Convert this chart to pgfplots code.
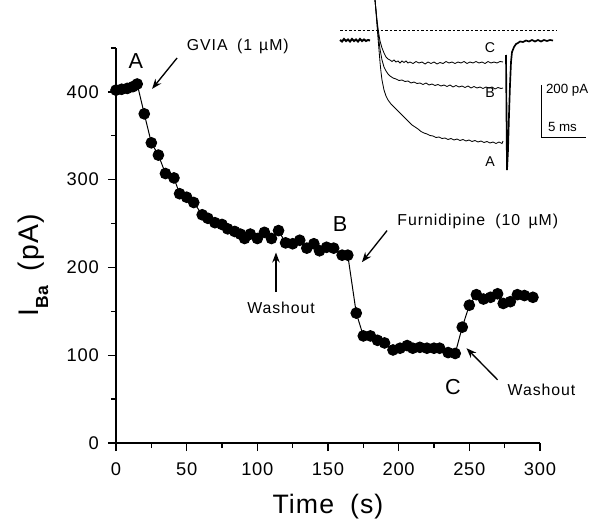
\documentclass[border=0pt]{standalone}
\usepackage{pgfplots}
\pgfplotsset{compat=1.18}
\usetikzlibrary{arrows.meta}
\usepackage{fontspec}
\setmainfont{Liberation Sans}
\newfontfamily\annfont[LetterSpace=6]{Liberation Sans}
\newfontfamily\lblfont[LetterSpace=4]{Liberation Sans}

\pgfplotstableread{
t I
0 402
4 403
8 404
12 406
15 409
20 375
25 342
30 328
35 307
41 302
45 284
50 280
55 274
61 260
65 256
70 251
75 249
79 244
84 241
88 238
91 233
95 238
100 233
105 240
110 233
115 242
120 228
125 227
130 231
135 222
140 227
144 219
149 223
154 222
160 214
164 214
170 148
175 122
180 122
185 117
190 114
196 106
201 108
206 111
210 108
215 109
220 108
225 108
229 108
235 103
240 102
245 132
250 157
255 169
260 164
265 166
270 170
274 159
279 161
284 169
289 168
295 166
}\mydata

\begin{document}
\begin{tikzpicture}
\begin{axis}[
  name=main,
  scale only axis,
  width=254.4pt, height=237pt,
  xmin=0, xmax=300, ymin=0, ymax=450,
  axis x line*=bottom, axis y line*=left,
  axis line style={line width=0.8pt, black},
  xtick={0,50,...,300}, minor xtick={25,75,...,275},
  ytick={0,100,...,400}, minor ytick={50,150,...,450},
  tick align=outside,
  major tick length=4.8pt, minor tick length=3pt,
  every tick/.style={black, line width=0.8pt},
  /pgf/number format/assume math mode=true,
  tick label style={font=\lblfont\fontsize{11}{13}\selectfont},
  xticklabel style={yshift=-3.5pt},
  yticklabel style={xshift=-2pt},
  xlabel={Time\hspace{0.6em}(s)},
  xlabel style={font=\lblfont\fontsize{16}{18}\selectfont, at={(axis description cs:0.5,-0.16)}, anchor=center},
  ylabel={I\raisebox{-0.35em}{\fontsize{10.5}{12}\selectfont\bfseries Ba}\hspace{0.5em}(pA)},
  ylabel style={font=\lblfont\fontsize{17}{19}\selectfont, at={(axis description cs:-0.196,0.45)}, anchor=center, rotate=0},
  clip=false,
]
\addplot[black, line width=0.6pt, mark=*, mark size=3.2pt, mark options={fill=black}] table[x=t, y=I] {\mydata};

% annotations
\node[font=\fontsize{13}{15}\selectfont] at (axis cs:14,435) {A};
\node[font=\fontsize{13}{15}\selectfont] at (axis cs:158.5,250) {B};
\node[font=\fontsize{13}{15}\selectfont] at (axis cs:238.5,64) {C};
\node[font=\annfont\fontsize{9.5}{11}\selectfont, anchor=west] at (axis cs:46,452) {GVIA\hspace{0.6em}(1\hspace{0.45em}µM)};
\draw[-{Stealth[length=6pt,width=4.5pt]}, line width=0.8pt] (axis cs:43.2,438.6) -- (axis cs:25.5,403.4);
\node[font=\annfont\fontsize{9.5}{11}\selectfont] at (axis cs:116.8,154.5) {Washout};
\draw[-{Stealth[length=6pt,width=4.5pt]}, line width=0.8pt] (axis cs:113.2,172) -- (axis cs:113.2,217);
\node[font=\annfont\fontsize{9.5}{11}\selectfont, anchor=west] at (axis cs:195,253) {Furnidipine\hspace{0.3em} (10\hspace{0.2em} µM)};
\draw[-{Stealth[length=6pt,width=4.5pt]}, line width=0.8pt] (axis cs:191.8,242) -- (axis cs:174,206);
\node[font=\annfont\fontsize{9.5}{11}\selectfont, anchor=west] at (axis cs:273,60) {Washout};
\draw[-{Stealth[length=6pt,width=4.5pt]}, line width=0.8pt] (axis cs:270,72) -- (axis cs:248,108);
\end{axis}

% inset, in pixel coordinates (x right, -y down)
\begin{axis}[
  scale only axis,
  width=254.4pt, height=237pt,
  xmin=116, xmax=540, ymin=-443, ymax=-48,
  hide axis, clip=false,
]
\addplot[black, line width=1.2pt] coordinates {(340,-40)(342,-41.5)(344,-39)(346,-41)(348,-39.5)(350,-41.5)(352,-39)(354,-41)(356,-39.5)(358,-41.5)(360,-39)(362,-41)(364,-39.5)(366,-41)(368,-40)(370,-40.5)};
\addplot[black, line width=0.5pt, dash pattern=on 1.5pt off 1.2pt] coordinates {(340,-30)(557,-30)};
\addplot[black, line width=0.5pt] coordinates {(375,0)(376,-10)(377,-20)(378,-28)(379,-35)(380,-41)(382,-48)(384,-53)(386,-57)(388,-59)(390,-60)(392,-61.5)(394,-60)(396,-62)(398,-61)(400,-63)(402,-61)(404,-62.5)(406,-61)(408,-63)(410,-62)(413,-63.5)(416,-61.5)(419,-63)(422,-62)(425,-64)(428,-62)(431,-63.5)(434,-62)(437,-64)(440,-62.5)(443,-63.5)(446,-61.5)(449,-63)(452,-62)(455,-63.5)(458,-62)(461,-63)(464,-61.5)(467,-63.5)(470,-62)(473,-63)(476,-61.5)(479,-63)(482,-62)(485,-63.5)(488,-61.5)(491,-63)(494,-62)(497,-63)(500,-61.5)(503,-62)};
\addplot[black, line width=0.5pt] coordinates {(375,0)(376,-11)(377,-22)(378,-32)(379,-41)(380,-49)(382,-60)(384,-67)(386,-71)(388,-74)(390,-76)(393,-78)(396,-79)(399,-80.5)(402,-80)(405,-81.5)(408,-81)(411,-83)(414,-82)(417,-83.5)(420,-83)(423,-84.5)(426,-83)(429,-85)(432,-84)(435,-85.5)(438,-84.5)(441,-86)(444,-85)(447,-86.5)(450,-85)(453,-87)(456,-85.5)(459,-87)(462,-86)(465,-87.5)(468,-86)(471,-88)(474,-86.5)(477,-88)(480,-87)(483,-88.5)(486,-87)(489,-88)(492,-87)(495,-89)(498,-87.5)(501,-88.5)(503,-88)};
\addplot[black, line width=0.5pt] coordinates {(375,0)(376,-12)(377,-25)(378,-38)(379,-50)(380,-62)(381,-72)(382,-80)(384,-90)(386,-96)(388,-100)(391,-104)(394,-107)(397,-110)(400,-113)(403,-116)(406,-119)(409,-122)(412,-125)(415,-127)(418,-129)(421,-131.5)(424,-133)(427,-134)(430,-135.5)(433,-136)(436,-137.5)(439,-137)(442,-138.5)(445,-138)(448,-139.5)(451,-138.5)(454,-140)(457,-139)(460,-140.5)(463,-139.5)(466,-141)(469,-140)(472,-141.5)(475,-140.5)(478,-142)(481,-141)(484,-142.5)(487,-141.5)(490,-143)(493,-142)(496,-143.5)(499,-142)(502,-143.5)(503,-141)};
\addplot[black, line width=1pt] coordinates {(506,-55)(507,-170)(508,-150)(509,-115)(510,-85)(511,-62)(512,-52)(514,-47)(516,-44)(518,-43)(520,-41.5)(523,-42)(526,-40.5)(529,-41.5)(532,-40)(535,-41.5)(538,-40)(541,-41.5)(544,-40)(547,-41)(550,-40)(553,-40.5)};
\addplot[black, line width=0.6pt] coordinates {(541,-85)(541,-137)(586,-137)};
\node[font=\fontsize{8}{10}\selectfont, anchor=west, inner sep=1pt] at (axis cs:544,-90) {200 pA};
\node[font=\fontsize{8}{10}\selectfont, anchor=west, inner sep=1pt] at (axis cs:546,-127) {5 ms};
\node[font=\annfont\fontsize{8.5}{10}\selectfont] at (axis cs:490,-48) {C};
\node[font=\annfont\fontsize{8.5}{10}\selectfont] at (axis cs:490,-93) {B};
\node[font=\annfont\fontsize{8.5}{10}\selectfont] at (axis cs:490,-162) {A};
\coordinate (bbsw) at (axis cs:0,-530);
\coordinate (bbne) at (axis cs:596,0);
\end{axis}
\pgfresetboundingbox
\useasboundingbox (bbsw) rectangle (bbne);
\end{tikzpicture}
\end{document}
